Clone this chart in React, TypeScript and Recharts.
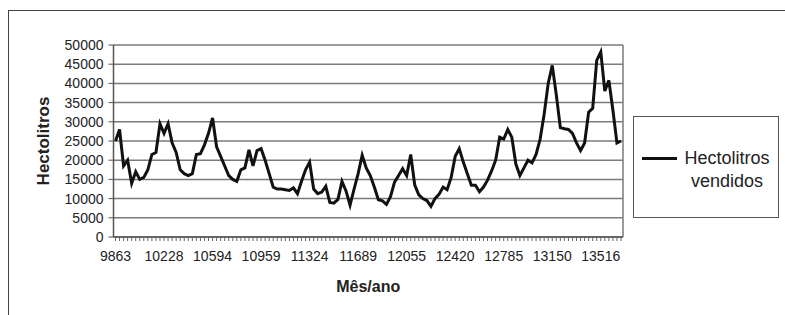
import React from 'react';
import {
  LineChart,
  Line,
  XAxis,
  YAxis,
  CartesianGrid,
} from 'recharts';

// x-axis labels: one every 12 months (Excel date serials)
const tickLabels = [
  '9863', '10228', '10594', '10959', '11324', '11689',
  '12055', '12420', '12785', '13150', '13516',
];

// monthly hectolitres sold
const hectolitros = [
  25000, 28000, 18500, 20000, 14000, 17000, 15000, 15500, 17500, 21500, 22000, 29500,
  27000, 29500, 24500, 22000, 17500, 16500, 16000, 16500, 21500, 21700, 24000, 27000,
  31000, 23500, 21000, 18500, 16000, 15000, 14500, 17500, 18000, 22700, 18500, 22500,
  23000, 20000, 16500, 13000, 12500, 12500, 12300, 12100, 12800, 11300, 14500, 17500,
  19500, 12500, 11300, 11700, 13200, 9000, 8800, 9800, 14500, 12000, 8300, 12500,
  16500, 21300, 18000, 16000, 13000, 9700, 9400, 8500, 10500, 14300, 16000, 17800,
  16000, 21500, 13500, 11000, 10000, 9500, 8000, 10000, 11100, 13000, 12300, 15500,
  21000, 23000, 19500, 16500, 13500, 13500, 11800, 13000, 14800, 17200, 20000, 26000,
  25500, 28000, 26000, 19000, 16000, 18000, 20000, 19300, 21500, 25500, 32000, 40000,
  44700, 37000, 28500, 28200, 28000, 27000, 24500, 22500, 24500, 32500, 33500, 46000,
  48200, 38000, 40800, 33000, 24500, 25000,
];

const yTicks = [0, 5000, 10000, 15000, 20000, 25000, 30000, 35000, 40000, 45000, 50000];

const chartData = hectolitros.map((v, i) => ({ idx: i, vendidos: v }));

const FONT = '"Liberation Sans", Arial, sans-serif';

const formatX = (i: number) => (i % 12 === 0 ? tickLabels[i / 12] ?? '' : '');

// legend box drawn beside the plot, like Excel's right-hand legend
function LegendBox() {
  return (
    <div
      style={{
        position: 'absolute',
        left: 633,
        top: 116,
        width: 146,
        height: 102,
        boxSizing: 'border-box',
        border: '1px solid #555',
        background: '#fff',
        fontFamily: FONT,
        fontSize: 18,
        color: '#222',
      }}
    >
      <div style={{ position: 'absolute', left: 8, top: 40, width: 35, height: 3, background: '#111' }} />
      <div style={{ position: 'absolute', left: 46, top: 30, width: 94, textAlign: 'center', lineHeight: '23px' }}>
        Hectolitros
        <br />
        vendidos
      </div>
    </div>
  );
}

export default function App() {
  return (
    <div style={{ position: 'absolute', left: 0, top: 0, width: 785, height: 315, background: '#fff', overflow: 'hidden' }}>
      {/* scan frame */}
      <div
        style={{
          position: 'absolute',
          left: 8,
          top: 10,
          width: 800,
          height: 320,
          borderLeft: '1px solid #444',
          borderTop: '1px solid #444',
        }}
      />
      <div style={{ position: 'absolute', left: 0, top: 0 }}>
        <LineChart
          width={785}
          height={315}
          data={chartData}
          margin={{ top: 45, right: 162, bottom: 18, left: 28 }}
        >
          <CartesianGrid
            stroke="#7a7a7a"
            strokeWidth={1.5}
            vertical
            verticalCoordinatesGenerator={({ offset }: any) => [offset.left + offset.width]}
          />
          <XAxis
            dataKey="idx"
            type="category"
            interval={0}
            padding={{ left: 2, right: 2 }}
            height={60}
            tickSize={4}
            tickMargin={10}
            tickFormatter={formatX}
            tick={{ fill: '#222', fontSize: 14, fontFamily: FONT }}
            axisLine={{ stroke: '#555', strokeWidth: 1.5 }}
            tickLine={{ stroke: '#666' }}
            label={{
              content: ({ viewBox }: any) => (
                <text
                  x={viewBox.x + viewBox.width / 2}
                  y={viewBox.y + 55}
                  textAnchor="middle"
                  fontFamily={FONT}
                  fontSize={16}
                  fontWeight="bold"
                  fill="#222"
                >
                  Mês/ano
                </text>
              ),
            }}
          />
          <YAxis
            domain={[0, 50000]}
            ticks={yTicks}
            interval={0}
            width={85.5}
            tickSize={5}
            tickMargin={5}
            tick={{ fill: '#222', fontSize: 14, fontFamily: FONT }}
            axisLine={{ stroke: '#555', strokeWidth: 1.5 }}
            tickLine={{ stroke: '#555' }}
            label={{
              content: ({ viewBox }: any) => {
                const cx = viewBox.x + 15;
                const cy = viewBox.y + viewBox.height / 2;
                return (
                  <text
                    x={cx}
                    y={cy}
                    transform={`rotate(-90 ${cx} ${cy})`}
                    textAnchor="middle"
                    dominantBaseline="central"
                    fontFamily={FONT}
                    fontSize={17}
                    fontWeight="bold"
                    fill="#222"
                  >
                    Hectolitros
                  </text>
                );
              },
            }}
          />
          <Line
            type="linear"
            dataKey="vendidos"
            name="Hectolitros vendidos"
            stroke="#111"
            strokeWidth={3}
            dot={false}
            isAnimationActive={false}
          />
        </LineChart>
      </div>
      <LegendBox />
    </div>
  );
}
